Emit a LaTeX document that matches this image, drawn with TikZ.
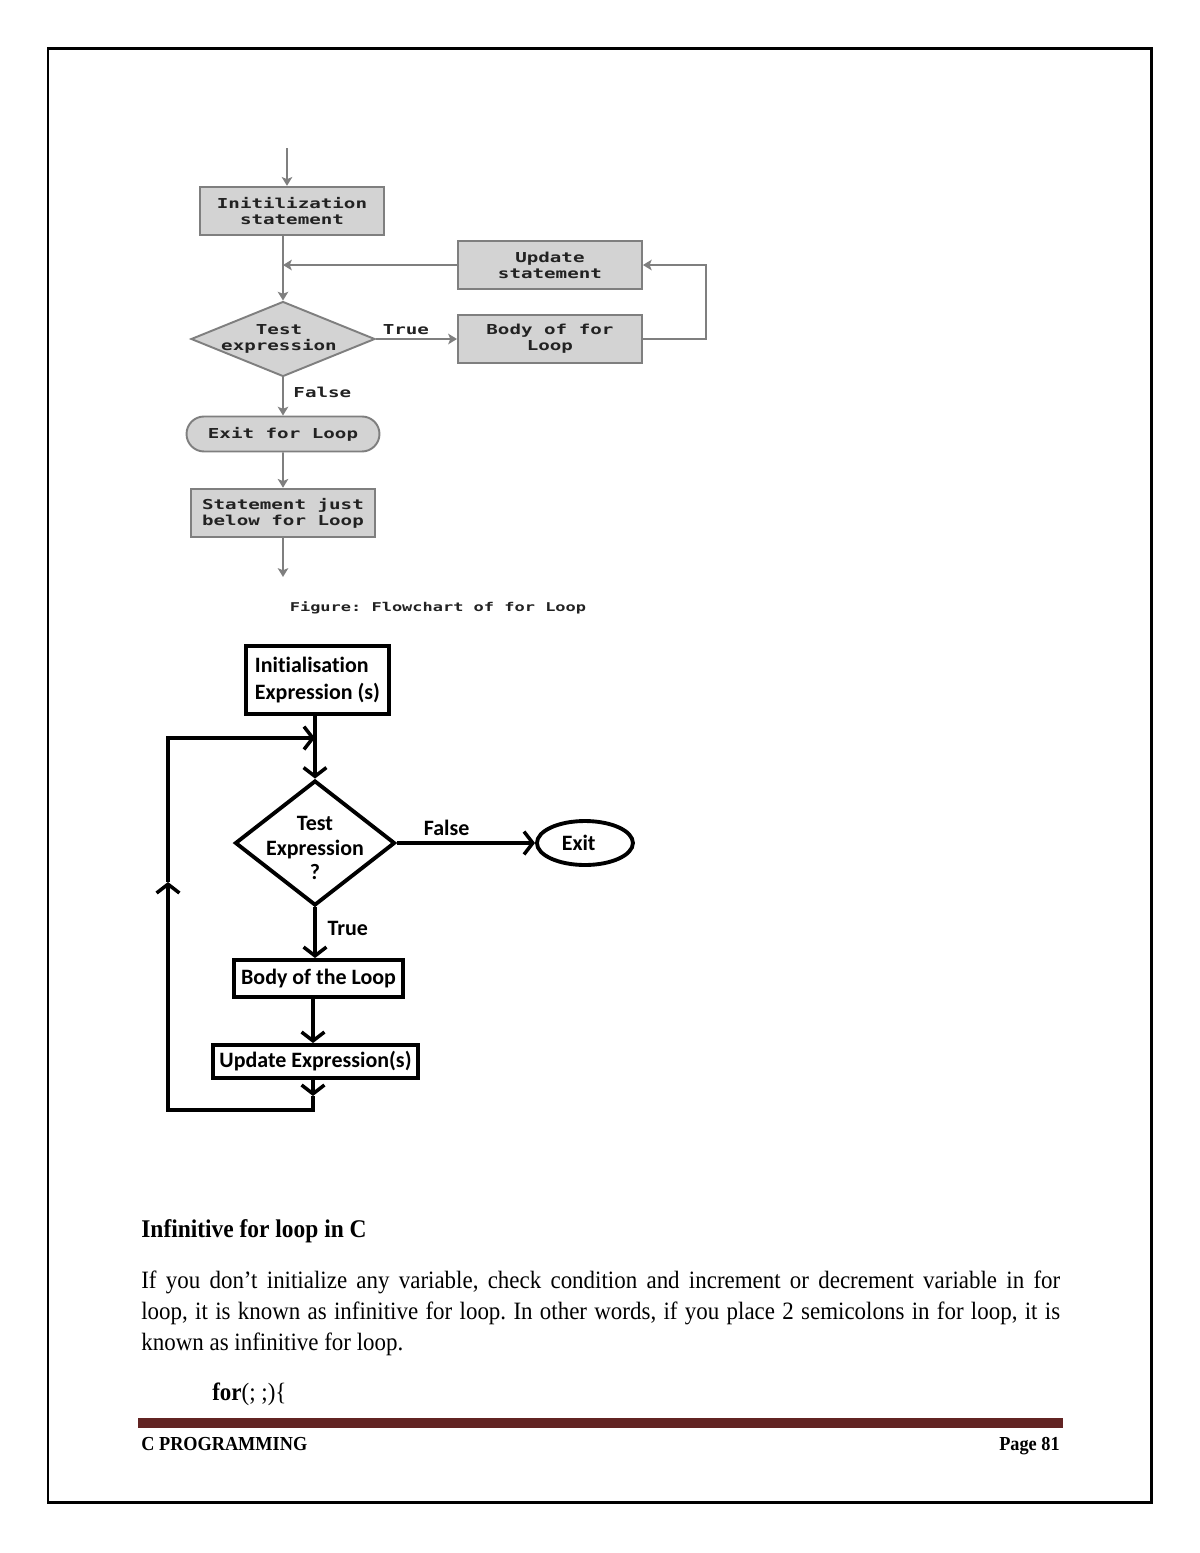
\documentclass[tikz,border=0pt]{standalone}
\usepackage{fontspec}
\setmainfont[FakeStretch=0.92]{Liberation Serif}
\newfontfamily\codefont[FakeStretch=1.4]{DejaVu Sans Mono}
\newfontfamily\calfont[Ligatures=NoCommon]{Carlito}
\usepackage{xcolor}
\usetikzlibrary{positioning, arrows.meta, shapes}
\definecolor{boxgray}{HTML}{D3D3D3}
\definecolor{linegray}{HTML}{7F7F7F}
\definecolor{textgray}{HTML}{222222}
\definecolor{footred}{HTML}{622423}
\frenchspacing

\begin{document}
\begin{tikzpicture}[x=0.02cm, y=-0.02cm, on grid,
    gbox/.style={rectangle, draw=linegray, fill=boxgray, line width=1.1pt, minimum width=3.68cm, minimum height=0.97cm, inner sep=0pt, align=center, text=textgray, font=\codefont\bfseries\fontsize{7.8}{9}\selectfont},
    gdec/.style={diamond, draw=linegray, fill=boxgray, line width=1.1pt, minimum width=3.68cm, minimum height=1.5cm, inner sep=0pt},
    gdectext/.style={align=center, text=textgray, inner sep=0pt, font=\codefont\bfseries\fontsize{7.8}{9}\selectfont},
    gterm/.style={rounded rectangle, draw=linegray, fill=boxgray, line width=1.1pt, minimum width=3.86cm, minimum height=0.7cm, inner sep=0pt, text=textgray, font=\codefont\bfseries\fontsize{7.8}{9}\selectfont},
    garrow/.style={draw=linegray, line width=1.1pt, -{Stealth[length=5pt, width=6pt, inset=1.2pt]}},
    glabel/.style={text=textgray, inner sep=2pt, font=\codefont\bfseries\fontsize{7.8}{9}\selectfont},
    bbox/.style={rectangle, draw, line width=2.2pt, inner sep=0pt, align=center, font=\calfont\bfseries\fontsize{12.5}{15.9}\selectfont},
    bdec/.style={diamond, draw, line width=2.2pt, minimum width=3.2cm, minimum height=2.5cm, inner sep=0pt},
    bdectext/.style={align=center, inner sep=0pt, font=\calfont\bfseries\fontsize{12.5}{14}\selectfont},
    bterm/.style={ellipse, draw, line width=2.2pt, minimum width=1.92cm, minimum height=0.88cm, inner sep=0pt, font=\calfont\bfseries\fontsize{12.5}{15}\selectfont},
    barrow/.style={line width=2pt, -{Straight Barb[length=5pt, width=13pt]}},
    blabel/.style={font=\calfont\bfseries\fontsize{12.5}{15}\selectfont}]
  \useasboundingbox (0,0) rectangle (1200,1553);
  \draw[line width=1.7pt] (48,48) rectangle (1151,1502);

  \node[gdec, label={[gdectext, xshift=-0.08cm]center:{Test\\expression}}] (test1) at (283,339) {};
  \node[gbox, above=2.56cm of test1, xshift=0.18cm] (init1) {Initilization\\statement};
  \node[gbox, right=5.34cm of test1] (body1) {Body of for\\Loop};
  \node[gbox, above=1.48cm of body1] (upd1) {Update\\statement};
  \node[gterm, below=1.9cm of test1] (exit1) {Exit for Loop};
  \node[gbox, below=1.58cm of exit1] (stmt1) {Statement just\\below for Loop};
  \coordinate[above=1.26cm of init1, xshift=-0.1cm] (start1);
  \coordinate[below=1.28cm of stmt1] (end1);
  \coordinate[right=3.12cm of body1] (turn1);
  \node[glabel, font=\codefont\bfseries\fontsize{6.9}{8}\selectfont] (cap1) at (438,608) {Figure: Flowchart of for Loop};

  \draw[garrow] (start1) -- (init1.north -| start1);
  \draw[garrow] (init1.south -| test1) -- (test1.north);
  \draw[garrow] (upd1.west) -- (upd1.west -| test1);
  \draw[garrow] (test1.east) -- node[glabel, above, pos=0.37] {True} (body1.west);
  \draw[garrow] (body1.east) -- (turn1) |- (upd1.east);
  \draw[garrow] (test1.south) -- node[glabel, right, pos=0.4, xshift=0.12cm] {False} (exit1.north);
  \draw[garrow] (exit1) -- (stmt1);
  \draw[garrow] (stmt1) -- (end1);

  \node[bdec, label={[bdectext, yshift=-0.1cm]center:{Test\\Expression\\?}}] (test2) at (315,843) {};
  \node[bbox, above=3.26cm of test2, xshift=0.05cm, minimum width=2.86cm, minimum height=1.36cm, align=left] (init2) {Initialisation\\Expression (s)};
  \node[bterm, right=5.4cm of test2] (exit2) {Exit\kern0.25cm};
  \node[bbox, below=2.71cm of test2, xshift=0.07cm, minimum width=3.38cm, minimum height=0.74cm] (body2) {Body of the Loop};
  \node[bbox, below=1.66cm of body2, xshift=-0.06cm, minimum width=4.1cm, minimum height=0.66cm] (upd2) {Update Expression(s)};
  \coordinate[above=2.1cm of test2] (join2);
  \coordinate (dn2) at (313,1096);
  \coordinate (br2) at (313,1110);
  \coordinate (up2) at (168,882);

  \draw[barrow] (init2.south -| test2) -- (test2.north);
  \draw[barrow] (test2.east) -- node[blabel, above, pos=0.36] {False} (exit2.west);
  \draw[barrow] (test2.south) -- node[blabel, right, pos=0.42, xshift=0.1cm] {True} (test2.south |- body2.north);
  \draw[barrow] (body2.south -| dn2) -- (upd2.north -| dn2);
  \draw[barrow] (upd2.south -| dn2) -- (dn2);
  \draw[barrow] (dn2) -- (br2) -| (up2);
  \draw[barrow] (up2) |- (join2);

  \node[anchor=west, inner sep=0pt, font=\bfseries\fontsize{14.5}{17}\selectfont] (head) at (141,1231) {Infinitive for loop in C};
  \node[anchor=north west, inner sep=0pt, text width=18.38cm, align=justify, font=\fontsize{14.2}{17.6}\selectfont] (para) at (141,1271)
    {If you don't initialize any variable, check condition and increment or decrement variable in for\linebreak
     loop, it is known as infinitive for loop. In other words, if you place 2 semicolons in for loop, it is\linebreak
     known as infinitive for loop.};
  \node[anchor=base west, inner sep=0pt, font=\fontsize{14.2}{15}\selectfont] (code) at (212,1400) {\textbf{for}(; ;)\{};
  \fill[footred] (138,1418) rectangle (1063,1428);
  \node[anchor=base west, inner sep=0pt, font=\bfseries\fontsize{11.3}{13}\selectfont] (foot) at (141,1450) {C PROGRAMMING};
  \node[anchor=base east, inner sep=0pt, font=\bfseries\fontsize{11.3}{13}\selectfont] (page) at (1060,1450) {Page 81};
\end{tikzpicture}
\end{document}
